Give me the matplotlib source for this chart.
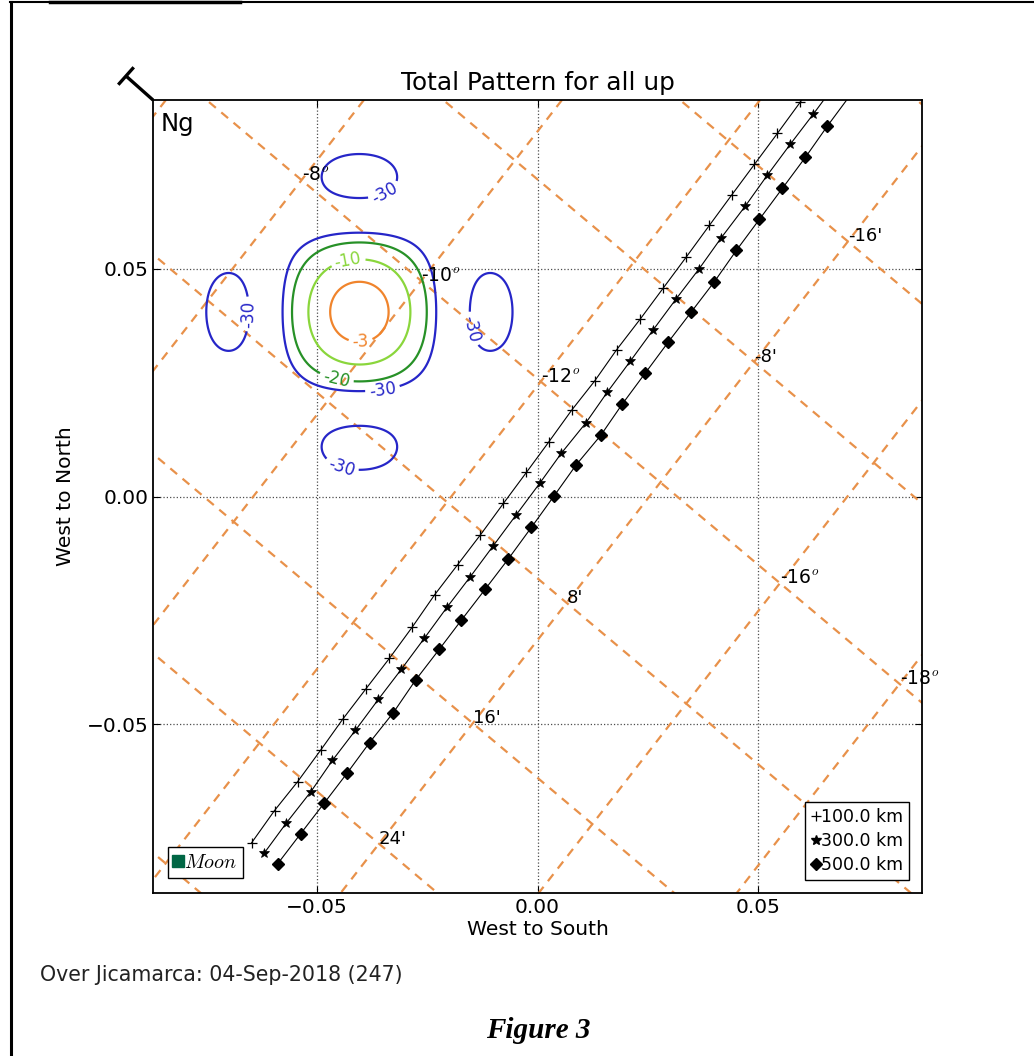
import numpy as np
import matplotlib
matplotlib.use("Agg")
import matplotlib.pyplot as plt
from matplotlib.lines import Line2D

plt.rcParams['font.family'] = ['DejaVu Sans']
plt.rcParams['mathtext.fontset'] = 'cm'

# ---------------- data ----------------
title = "Total Pattern for all up"
xlabel = "West to South"
ylabel = "West to North"
footer = "Over Jicamarca: 04-Sep-2018 (247)"
caption = "Figure 3"
xticks = [-0.05, 0.0, 0.05]
yticks = [-0.05, 0.0, 0.05]
xlim = (-0.087, 0.087)
ylim = (-0.087, 0.087)

# trajectories (last point lies beyond the top edge, no marker)
x100 = [-0.0647, -0.0595, -0.0543, -0.0491, -0.0441, -0.0389, -0.0335, -0.0283, -0.0233,
        -0.0181, -0.0129, -0.0077, -0.0025, 0.0025, 0.0077, 0.0129, 0.0179, 0.0233,
        0.0285, 0.0337, 0.0389, 0.0439, 0.0491, 0.0543, 0.0595, 0.0647]
y100 = [-0.0760, -0.0689, -0.0626, -0.0557, -0.0489, -0.0423, -0.0355, -0.0286, -0.0216,
        -0.0150, -0.0084, -0.0015, 0.0053, 0.0119, 0.0189, 0.0253, 0.0322, 0.0390,
        0.0458, 0.0526, 0.0595, 0.0661, 0.0729, 0.0797, 0.0866, 0.0934]
x300 = [-0.0618, -0.0568, -0.0513, -0.0464, -0.0412, -0.0360, -0.0308, -0.0256, -0.0204,
        -0.0152, -0.0100, -0.0048, 0.0005, 0.0054, 0.0109, 0.0158, 0.0210, 0.0262,
        0.0314, 0.0366, 0.0416, 0.0470, 0.0520, 0.0572, 0.0624, 0.0676]
y300 = [-0.0782, -0.0716, -0.0648, -0.0579, -0.0513, -0.0445, -0.0379, -0.0311, -0.0242,
        -0.0176, -0.0108, -0.0040, 0.0029, 0.0095, 0.0161, 0.0229, 0.0297, 0.0366,
        0.0434, 0.0500, 0.0568, 0.0637, 0.0705, 0.0773, 0.0839, 0.0907]
x500 = [-0.0588, -0.0536, -0.0482, -0.0430, -0.0380, -0.0326, -0.0276, -0.0222, -0.0172,
        -0.0118, -0.0066, -0.0014, 0.0038, 0.0088, 0.0143, 0.0192, 0.0244, 0.0296,
        0.0348, 0.0400, 0.0450, 0.0502, 0.0554, 0.0606, 0.0656, 0.0708]
y500 = [-0.0806, -0.0740, -0.0672, -0.0606, -0.0540, -0.0474, -0.0403, -0.0335, -0.0271,
        -0.0203, -0.0137, -0.0068, 0.0002, 0.0070, 0.0134, 0.0203, 0.0271, 0.0339,
        0.0405, 0.0471, 0.0540, 0.0608, 0.0676, 0.0744, 0.0813, 0.0881]
traj_labels = ["100.0 km", "300.0 km", "500.0 km"]

# sky coordinate grid (declination lines in degrees, RA lines in minutes)
dec_lines = [-6, -8, -10, -12, -14, -16, -18]
ra_lines = [-24, -16, -8, 0, 8, 16, 24, 32]
dec_labels = [-8, -10, -12, -16, -18]
ra_labels = [-16, -8, 8, 16, 24]
grid_origin = (0.0278, 0.0031)     # crossing of -14 deg and 0'
dec_step = (0.02706, -0.02211)     # shift per -2 deg
ra_step = (-0.02122, -0.02643)     # shift per +8'

# antenna pattern (two-way) parameters
beam_center = (-0.0403, 0.0405)
beam_scale = 48.8
n_elem = 6
levels = [-30, -20, -10, -3]
level_colors = ['#2626c8', '#279127', '#8ad63c', '#f0842c']
clabel_pos = [(-0.0400, 0.0337), (-0.0428, 0.0515), (-0.0455, 0.0258), (-0.0351, 0.0238),
              (-0.0351, 0.0678), (-0.0681, 0.0401), (-0.0156, 0.0366), (-0.0443, 0.0066)]

# ---------------- figure ----------------
W, H = 1034, 1056
fig = plt.figure(figsize=(W / 100, H / 100), dpi=100)
ax = fig.add_axes([153 / W, 1 - 893 / H, 769 / W, 793 / H])
ax.set_xlim(*xlim)
ax.set_ylim(*ylim)

# sky grid
ox, oy = grid_origin
grid_color = '#e8914a'
for d in dec_lines:
    i = (-14 - d) / 2.0
    px, py = ox + i * dec_step[0], oy + i * dec_step[1]
    t = np.array([-12, 12])
    ax.plot(px + t * ra_step[0], py + t * ra_step[1], color=grid_color, lw=1.6,
            dashes=(4, 3.2), zorder=2)
for m in ra_lines:
    j = m / 8.0
    px, py = ox + j * ra_step[0], oy + j * ra_step[1]
    t = np.array([-12, 12])
    ax.plot(px + t * dec_step[0], py + t * dec_step[1], color=grid_color, lw=1.6,
            dashes=(4, 3.2), zorder=2)
for d in dec_labels:
    i = (-14 - d) / 2.0
    ax.text(ox + i * dec_step[0], oy + i * dec_step[1], '%d$^o$' % d, fontsize=13.5,
            zorder=5)
for m in ra_labels:
    j = m / 8.0
    ax.text(ox + j * ra_step[0], oy + j * ra_step[1], "%d'" % m, fontsize=13, zorder=5)

# antenna pattern contours
def array_factor(s):
    s = np.asarray(s, dtype=float)
    num = np.sin(np.pi * s)
    den = n_elem * np.sin(np.pi * s / n_elem)
    small = np.abs(s) < 1e-9
    r = np.where(small, 1.0, num / np.where(small, 1.0, den))
    return np.where(np.abs(s) < n_elem / 2.0, r, 0.0)

gx = np.linspace(xlim[0], xlim[1], 700)
gy = np.linspace(ylim[0], ylim[1], 700)
X, Y = np.meshgrid(gx, gy)
pat = np.abs(array_factor(beam_scale * (X - beam_center[0])) *
             array_factor(beam_scale * (Y - beam_center[1])))
P = 40 * np.log10(pat + 1e-8)
cs = ax.contour(X, Y, P, levels=levels, colors=level_colors, linewidths=1.6, zorder=3)
ax.clabel(cs, fmt='%d', fontsize=12, inline=True, inline_spacing=4, manual=clabel_pos)

# trajectories
n_mark = len(x100) - 1
ax.plot(x100, y100, color='k', lw=0.8, marker='+', ms=6.5, mew=0.9,
        markevery=slice(0, n_mark), zorder=4)
ax.plot(x300, y300, color='k', lw=0.8, marker='*', ms=7.5, mew=0.5,
        markevery=slice(0, n_mark), zorder=4)
ax.plot(x500, y500, color='k', lw=0.8, marker='D', ms=6.5,
        markevery=slice(0, n_mark), zorder=4)

handles = [Line2D([], [], ls='none', marker='+', color='k', ms=6.5, mew=0.9),
           Line2D([], [], ls='none', marker='*', color='k', ms=7.5),
           Line2D([], [], ls='none', marker='D', color='k', ms=6)]
leg = ax.legend(handles, traj_labels, loc='lower right', fontsize=12.5, handlelength=0.5,
                handletextpad=0.05, borderpad=0.35, labelspacing=0.35, fancybox=False,
                framealpha=1, edgecolor='k', borderaxespad=0.75)
leg.get_frame().set_linewidth(1.0)
leg.set_zorder(10)
ax.add_artist(leg)
moon = ax.legend([Line2D([], [], ls='none', marker='s', color='#006644', ms=8)], ['$Moon$'],
                 loc='lower left', fontsize=14.5, handlelength=0.4, handletextpad=0.1,
                 borderpad=0.3, fancybox=False, framealpha=1, edgecolor='k',
                 borderaxespad=0.75)
moon.get_frame().set_linewidth(1.0)
moon.set_zorder(10)

# axes styling
ax.set_xticks(xticks)
ax.set_yticks(yticks)
ax.tick_params(direction='in', length=5, top=True, right=True, labelsize=14.5)
ax.grid(True, ls=':', color='0.3', lw=0.9, zorder=1)
ax.set_axisbelow(True)
for sp in ax.spines.values():
    sp.set_linewidth(1.3)
ax.set_title(title, fontsize=17.8, pad=7)
ax.set_xlabel(xlabel, fontsize=14.6, labelpad=2)
ax.set_ylabel(ylabel, fontsize=14.6, labelpad=8)
ax.text(0.01, 0.985, 'Ng', transform=ax.transAxes, fontsize=17.5, va='top', ha='left')

# geomagnetic north arrow at the top-left axes corner (figure pixels)
cx, cy = 153, H - 100
ex, ey = cx - 27, cy + 24
ang = np.arctan2(ey - cy, ex - cx)
perp = (np.cos(ang + np.pi / 2), np.sin(ang + np.pi / 2))
fig.add_artist(Line2D([cx / W, ex / W], [cy / H, ey / H], color='k', lw=2.4,
                      transform=fig.transFigure, solid_capstyle='butt'))
hl = 10
fig.add_artist(Line2D([(ex - hl * perp[0]) / W, (ex + hl * perp[0]) / W],
                      [(ey - hl * perp[1]) / H, (ey + hl * perp[1]) / H], color='k', lw=2.4,
                      transform=fig.transFigure))

# footer texts
fig.text(40 / W, 1 - 975 / H, footer, fontsize=14.8, va='center', ha='left', color='#222222')
fig.text(538 / W, 1 - 1030 / H, caption, fontsize=21, va='center', ha='center',
         family='Liberation Serif', weight='bold', style='italic')

# page frame
fig.add_artist(Line2D([10.5 / W, 10.5 / W], [0, 1 - 1.5 / H], color='k', lw=2.2,
                      transform=fig.transFigure))
fig.add_artist(Line2D([10 / W, 1], [1 - 2 / H, 1 - 2 / H], color='k', lw=1.5,
                      transform=fig.transFigure))
fig.add_artist(Line2D([50 / W, 240 / W], [1 - 1.5 / H, 1 - 1.5 / H], color='k', lw=2.5,
                      transform=fig.transFigure))

fig.savefig('out.png', dpi=100)
